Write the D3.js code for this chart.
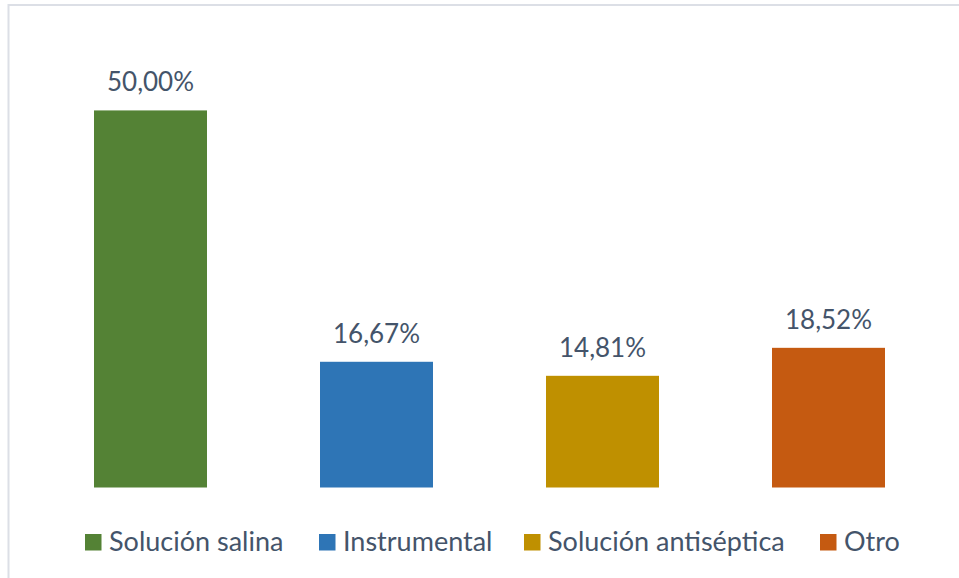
<!DOCTYPE html>
<html>
<head>
<meta charset="utf-8">
<script src="https://cdn.jsdelivr.net/npm/d3@7"></script>
<style>
  html, body { margin: 0; padding: 0; background: #fff; }
  svg { display: block; }
</style>
</head>
<body>
<svg id="chart" width="959" height="578"></svg>
<script>
const categories = ["Solución salina", "Instrumental", "Solución antiséptica", "Otro"];
const values = [50.00, 16.67, 14.81, 18.52];
const valueLabels = ["50,00%", "16,67%", "14,81%", "18,52%"];
const colors = ["#548235", "#2E75B6", "#BF9000", "#C55A11"];

const svg = d3.select("#chart");
const textColor = "#44546A";
const fontFam = "Lato, 'Open Sans', sans-serif";

// frame border (top and left visible)
svg.append("rect")
  .attr("x", 8.5).attr("y", 5)
  .attr("width", 1000).attr("height", 1000)
  .attr("fill", "none")
  .attr("stroke", "#DCDFE6")
  .attr("stroke-width", 2);

const x = d3.scaleBand()
  .domain(categories)
  .range([37.5, 941.5])
  .paddingInner(0.5)
  .paddingOuter(0.25);

const y = d3.scaleLinear()
  .domain([0, 60])
  .range([487.5, 35]);

svg.append("g").selectAll("rect")
  .data(categories)
  .join("rect")
  .attr("x", d => x(d))
  .attr("y", (d, i) => y(values[i]))
  .attr("width", x.bandwidth())
  .attr("height", (d, i) => y(0) - y(values[i]))
  .attr("fill", (d, i) => colors[i]);

svg.append("g").selectAll("text")
  .data(categories)
  .join("text")
  .attr("x", d => x(d) + x.bandwidth() / 2)
  .attr("y", (d, i) => y(values[i]) - 19)
  .attr("text-anchor", "middle")
  .attr("font-family", fontFam)
  .attr("font-size", 26)
  .attr("fill", textColor)
  .text((d, i) => valueLabels[i]);

// legend
const legendX = [85, 319, 524, 820];
const lg = svg.append("g");
categories.forEach((c, i) => {
  lg.append("rect")
    .attr("x", legendX[i]).attr("y", 534)
    .attr("width", 16.5).attr("height", 16.5)
    .attr("fill", colors[i]);
  lg.append("text")
    .attr("x", legendX[i] + 24)
    .attr("y", 551)
    .attr("font-family", fontFam)
    .attr("font-size", 27)
    .attr("fill", textColor)
    .text(c);
});
</script>
</body>
</html>
